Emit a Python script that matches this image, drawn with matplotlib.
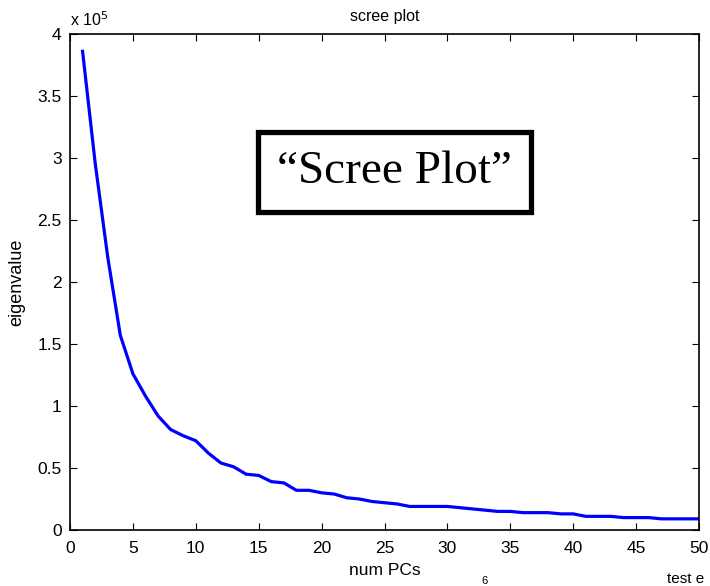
import numpy as np
import matplotlib
matplotlib.use("Agg")
import matplotlib.pyplot as plt

# --- data (eigenvalues in units of 1e5) ---
num_pcs = list(range(1, 51))
eigenvalues = [3.86, 2.96, 2.20, 1.57, 1.26, 1.08, 0.92, 0.81, 0.76, 0.72,
               0.62, 0.54, 0.51, 0.45, 0.44, 0.39, 0.38, 0.32, 0.32, 0.30,
               0.29, 0.26, 0.25, 0.23, 0.22, 0.21, 0.19, 0.19, 0.19, 0.19,
               0.18, 0.17, 0.16, 0.15, 0.15, 0.14, 0.14, 0.14, 0.13, 0.13,
               0.11, 0.11, 0.11, 0.10, 0.10, 0.10, 0.09, 0.09, 0.09, 0.09]
x_ticks = [0, 5, 10, 15, 20, 25, 30, 35, 40, 45, 50]
y_ticks = [0, 0.5, 1, 1.5, 2, 2.5, 3, 3.5, 4]
y_ticklabels = ["0", "0.5", "1", "1.5", "2", "2.5", "3", "3.5", "4"]

plt.rcParams['font.family'] = ['Liberation Sans', 'DejaVu Sans']

fig = plt.figure(figsize=(7.10, 5.86), dpi=100)
ax = fig.add_axes([70 / 710, 56 / 586, 629 / 710, 496 / 586])

ax.plot(num_pcs, eigenvalues, color='#0000ff', linewidth=2.3)

ax.set_xlim(0, 50)
ax.set_ylim(0, 4)
ax.set_xticks(x_ticks)
ax.set_yticks(y_ticks)
ax.set_yticklabels(y_ticklabels)
ax.tick_params(direction='in', length=5, width=0.8, labelsize=12.5,
               top=True, right=True, pad=6)
ax.tick_params(axis='x', pad=8)
for s in ax.spines.values():
    s.set_linewidth(1.2)

ax.set_title("scree plot", fontsize=11.5, pad=9)
ax.set_xlabel("num PCs", fontsize=12.5, labelpad=5)
ax.set_ylabel("eigenvalue", fontsize=13, labelpad=9)

# exponent marker like MATLAB
ax.text(0, 4.04, r"x 10$^{5}$", fontsize=11.5, ha='left', va='bottom',
        transform=ax.transData)

# boxed annotation
ax.text(25.8, 2.89, "\u201cScree Plot\u201d", fontsize=34,
        family=['Liberation Serif', 'DejaVu Serif'], ha='center', va='center',
        bbox=dict(boxstyle='square,pad=0.4', facecolor='white',
                  edgecolor='black', linewidth=3.8))

# text from the next figure peeking in at the bottom edge
fig.text(484 / 710, 0 / 586, "6", fontsize=8, ha='center', va='bottom')
fig.text(667 / 710, 0 / 586, "test e", fontsize=11, ha='left', va='bottom')

fig.savefig("out.png", dpi=100)
